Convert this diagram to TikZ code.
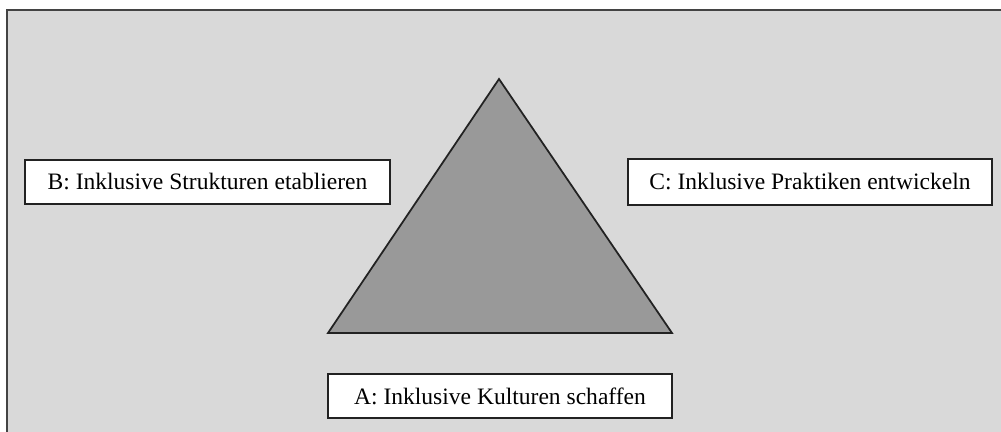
\documentclass[tikz,border=0pt]{standalone}
\usepackage{fontspec}
\setmainfont{Liberation Serif}
\usepackage{tikz}
\usetikzlibrary{positioning}

\definecolor{panelgray}{HTML}{D9D9D9}
\definecolor{trigray}{HTML}{999999}
\definecolor{edgegray}{HTML}{222222}

\tikzset{
    goalbox/.style={draw=edgegray, line width=1pt, fill=white, inner sep=0pt,
        font=\fontsize{13.4}{15}\selectfont, minimum height=0.88cm}
}

\begin{document}
\begin{tikzpicture}[x=0.02cm, y=-0.02cm]
    \useasboundingbox (0, 0) rectangle (1001, 432);
    % background panel
    \fill[panelgray] (7, 10) rectangle (1001, 432);
    \draw[edgegray!85, line width=1.4pt] (7, 432) -- (7, 10) -- (1001, 10);

    % triangle
    \coordinate (top) at (499, 79);
    \coordinate (left) at (328, 333);
    \coordinate (right) at (672, 333);
    \draw[edgegray, fill=trigray, line width=1pt, line join=miter] (top) -- (left) -- (right) -- cycle;

    % the three dimensions
    \node[goalbox, minimum width=7.3cm] (dimB) at (207.5, 182) {B: Inklusive Strukturen etablieren};
    \node[goalbox, minimum width=7.28cm, minimum height=0.92cm] (dimC) at (810, 182) {C: Inklusive Praktiken entwickeln};
    \node[goalbox, minimum width=6.88cm] (dimA) at (500, 396) {A: Inklusive Kulturen schaffen};
\end{tikzpicture}
\end{document}
